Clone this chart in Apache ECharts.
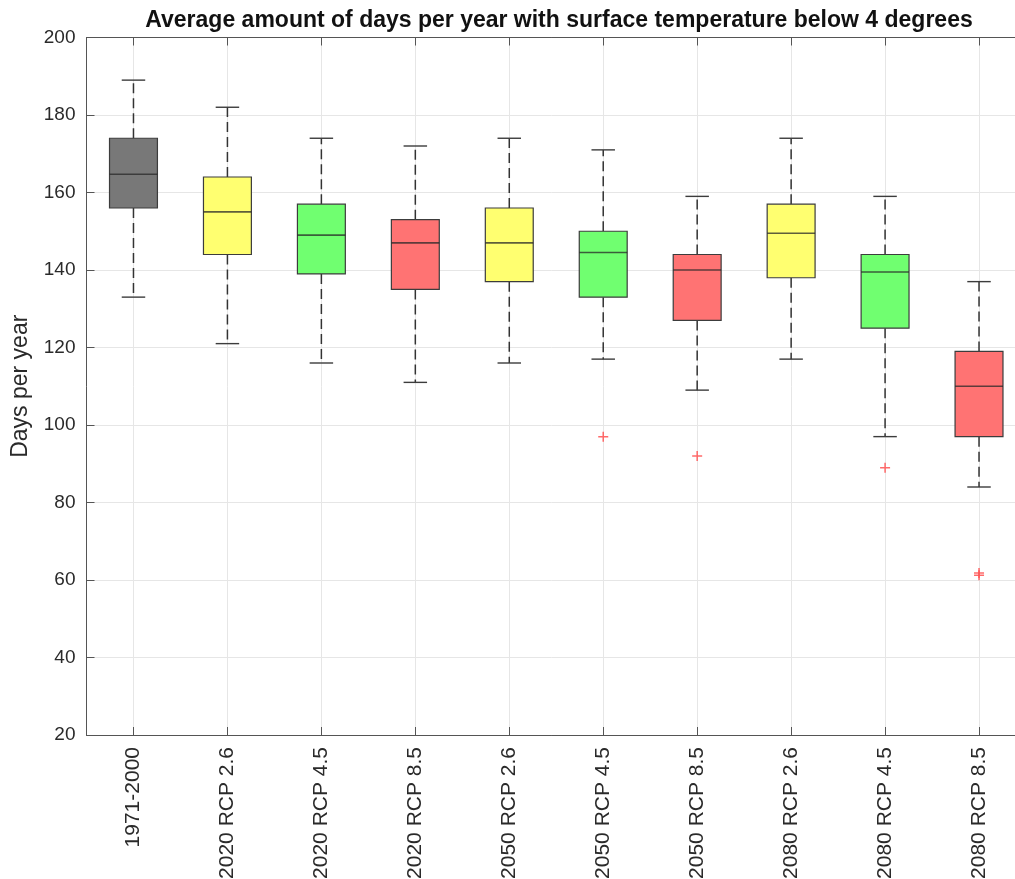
<!DOCTYPE html>
<html><head><meta charset="utf-8">
<script src="https://cdn.jsdelivr.net/npm/echarts@6/dist/echarts.min.js"></script>
<style>html,body{margin:0;padding:0;background:#fff}#c{width:1015px;height:879px}</style>
</head><body><div id="c"></div>
<script>
const categories = ['1971-2000','2020 RCP 2.6','2020 RCP 4.5','2020 RCP 8.5','2050 RCP 2.6','2050 RCP 4.5','2050 RCP 8.5','2080 RCP 2.6','2080 RCP 4.5','2080 RCP 8.5'];
const whiskerLow  = [133, 121, 116, 111, 116, 117, 109, 117,  97,  84];
const q1          = [156, 144, 139, 135, 137, 133, 127, 138, 125,  97];
const median      = [164.7, 155, 149, 147, 147, 144.5, 140, 149.5, 139.5, 110];
const q3          = [174, 164, 157, 153, 156, 150, 144, 157, 144, 119];
const whiskerHigh = [189, 182, 174, 172, 174, 171, 159, 174, 159, 137];
const outlierCategory = [6, 7, 9, 10, 10];
const outlierValue    = [97, 92, 89, 61.2, 61.8];
const boxColors = ['#787878','#ffff70','#70ff70','#ff7373','#ffff70','#70ff70','#ff7373','#ffff70','#70ff70','#ff7373'];
const yMin = 20, yMax = 200, yInterval = 20;
const titleText = 'Average amount of days per year with surface temperature below 4 degrees';
const yName = 'Days per year';

const positions = categories.map((c, i) => i + 1);
const boxData = categories.map((c, i) => [i + 1, whiskerLow[i], q1[i], median[i], q3[i], whiskerHigh[i]]);
const outlierData = outlierCategory.map((c, i) => [c, outlierValue[i]]);

const FONT = 'Liberation Sans';
const axisColor = '#555';
const gridColor = '#e6e6e6';

const chart = echarts.init(document.getElementById('c'), null, {renderer: 'canvas'});
chart.setOption({
  animation: false,
  backgroundColor: '#fff',
  title: {
    text: titleText, left: 554, top: 4, textAlign: 'center',
    textStyle: {fontFamily: FONT, fontWeight: 'bold', fontSize: 23, color: '#111'}
  },
  grid: {left: 86.5, right: -11, top: 37.5, bottom: 144, outerBoundsMode: 'none', containLabel: false},
  xAxis: [{
    type: 'value', min: 0.5, max: 10.5, position: 'bottom',
    axisLine: {show: true, onZero: false, lineStyle: {color: axisColor, width: 1}},
    axisTick: {show: true, inside: true, length: 8, customValues: positions, lineStyle: {color: axisColor}},
    axisLabel: {customValues: positions, rotate: 90, fontFamily: FONT, fontSize: 21, color: '#2a2a2a', margin: 12,
      formatter: v => categories[Math.round(v) - 1] || ''},
    splitLine: {show: true, lineStyle: {color: gridColor, width: 1}}
  }, {
    type: 'value', min: 0.5, max: 10.5, position: 'top',
    axisLine: {show: true, onZero: false, lineStyle: {color: axisColor, width: 1}},
    axisTick: {show: true, inside: true, length: 8, customValues: positions, lineStyle: {color: axisColor}},
    axisLabel: {show: false},
    splitLine: {show: false}
  }],
  yAxis: [{
    type: 'value', min: yMin, max: yMax, interval: yInterval,
    name: yName, nameLocation: 'middle', nameGap: 54,
    nameTextStyle: {fontFamily: FONT, fontSize: 23, color: '#2a2a2a'},
    axisLine: {show: true, onZero: false, lineStyle: {color: axisColor, width: 1}},
    axisTick: {show: true, inside: true, length: 8, lineStyle: {color: axisColor}},
    axisLabel: {fontFamily: FONT, fontSize: 19, color: '#2a2a2a', margin: 11},
    splitLine: {show: true, lineStyle: {color: gridColor, width: 1}}
  }],
  series: [{
    type: 'custom',
    xAxisIndex: 0, yAxisIndex: 0,
    encode: {x: 0, y: [1, 2, 3, 4, 5]},
    data: boxData,
    renderItem: function (params, api) {
      const pos = api.value(0);
      const pLow = api.coord([pos, api.value(1)]);
      const pQ1 = api.coord([pos, api.value(2)]);
      const pMed = api.coord([pos, api.value(3)]);
      const pQ3 = api.coord([pos, api.value(4)]);
      const pHigh = api.coord([pos, api.value(5)]);
      const unit = api.size([1, 0])[0];
      const bw = unit * 0.51, cw = unit * 0.25;
      const x = pLow[0];
      const dash = {stroke: '#333', lineWidth: 1.5, lineDash: [10, 5]};
      const solid = {stroke: '#3c3c3c', lineWidth: 1.4};
      return {type: 'group', children: [
        {type: 'line', shape: {x1: x, y1: pQ3[1], x2: x, y2: pHigh[1]}, style: dash},
        {type: 'line', shape: {x1: x, y1: pQ1[1], x2: x, y2: pLow[1]}, style: dash},
        {type: 'line', shape: {x1: x - cw / 2, y1: pHigh[1], x2: x + cw / 2, y2: pHigh[1]}, style: solid},
        {type: 'line', shape: {x1: x - cw / 2, y1: pLow[1], x2: x + cw / 2, y2: pLow[1]}, style: solid},
        {type: 'rect', shape: {x: x - bw / 2, y: pQ3[1], width: bw, height: pQ1[1] - pQ3[1]},
          style: {fill: boxColors[params.dataIndex], stroke: '#3c3c3c', lineWidth: 1.2}},
        {type: 'line', shape: {x1: x - bw / 2, y1: pMed[1], x2: x + bw / 2, y2: pMed[1]},
          style: {stroke: 'rgba(40,40,40,0.75)', lineWidth: 1.6}}
      ]};
    }
  }, {
    type: 'scatter',
    xAxisIndex: 0, yAxisIndex: 0,
    data: outlierData,
    symbol: 'path://M4.25,0h1.5v4.25h4.25v1.5h-4.25v4.25h-1.5v-4.25h-4.25v-1.5h4.25z',
    symbolSize: 10,
    itemStyle: {color: '#ff5050', opacity: 0.85}
  }]
});
</script>
</body></html>
